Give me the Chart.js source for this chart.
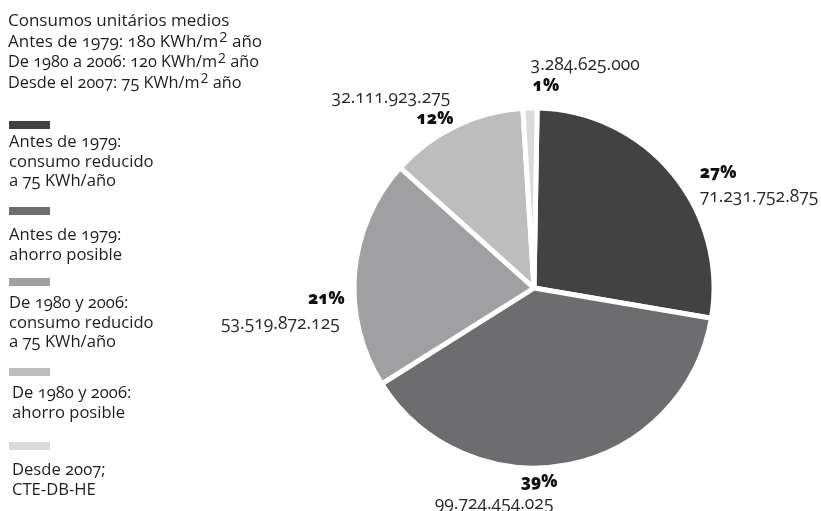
<!DOCTYPE html>
<html>
<head>
<meta charset="utf-8">
<script src="https://cdn.jsdelivr.net/npm/chart.js@4"></script>
<style>
  body { margin: 0; background: #fff; }
  #wrap { position: relative; width: 821px; height: 511px; font-family: "Open Sans", sans-serif; color: #1e1e1e; font-variant-numeric: oldstyle-nums; }
  #chartBox { position: absolute; left: 0; top: 0; width: 821px; height: 511px; }
  #head { position: absolute; left: 8px; top: 10px; font-size: 17px; line-height: 20.5px; white-space: nowrap; }
  #head .small { font-size: 16.3px; }
  #head sup { font-size: 0.85em; vertical-align: 0.3em; line-height: 0; font-variant-numeric: lining-nums; margin-left: 1px; }
  .sw { position: absolute; left: 9px; width: 41px; height: 8px; }
  .lab { position: absolute; font-size: 16.6px; line-height: 19.5px; white-space: pre-line; }
</style>
</head>
<body>
<div id="wrap">
  <div id="chartBox"><canvas id="chartCanvas"></canvas></div>
  <div id="head">
    Consumos unitários medios<br>
    Antes de 1979: 180 KWh/m<sup>2</sup> año<br>
    <span class="small">De 1980 a 2006: 120 KWh/m<sup>2</sup> año</span><br>
    <span class="small">Desde el 2007: 75 KWh/m<sup>2</sup> año</span>
  </div>
  <div id="legend"></div>
</div>
<script>
const categories = [
  "Antes de 1979:\nconsumo reducido\na 75 KWh/año",
  "Antes de 1979:\nahorro posible",
  "De 1980 y 2006:\nconsumo reducido\na 75 KWh/año",
  "De 1980 y 2006:\nahorro posible",
  "Desde 2007;\nCTE-DB-HE"
];
const values = [71231752875, 99724454025, 53519872125, 32111923275, 3284625000];
const percentLabels = ["27%", "39%", "21%", "12%", "1%"];
const colors = ["#424242", "#6d6d6f", "#a0a0a2", "#bdbdbe", "#dadadb"];

// legend layout (hand placed, like the original)
const swatchTop = [121, 207, 278, 368, 442];
const textTop = [131, 224, 292, 382, 459];
const textLeft = [9, 9, 9, 12, 12];

// where the slice labels sit relative to the slice's outer mid point
const labelPlace = [
  { align: "left",  dx: 14, dy: 11, vx: 0,  vy: 24 },
  { align: "right", dx: -15, dy: 1, vx: -4, vy: 22 },
  { align: "right", dx: 7,  dy: 28, vx: -5, vy: 25 },
  { align: "right", dx: 5,  dy: 9,  vx: -3, vy: -22 },
  { align: "left",  dx: 3,  dy: -5, vx: -2, vy: -21 }
];

function fmt(v) {
  return String(v).replace(/\B(?=(\d{3})+(?!\d))/g, ".");
}

// build the legend on the left
const legend = document.getElementById("legend");
categories.forEach((c, i) => {
  const sw = document.createElement("div");
  sw.className = "sw";
  sw.style.top = swatchTop[i] + "px";
  sw.style.background = colors[i];
  legend.appendChild(sw);
  const t = document.createElement("div");
  t.className = "lab";
  t.style.top = textTop[i] + "px";
  t.style.left = textLeft[i] + "px";
  t.textContent = c;
  legend.appendChild(t);
});

// percent + value text next to each slice
const sliceLabels = {
  id: "sliceLabels",
  afterDatasetsDraw(chart) {
    const ctx = chart.ctx;
    const arcs = chart.getDatasetMeta(0).data;
    arcs.forEach((arc, i) => {
      const p = arc.getProps(["x", "y", "startAngle", "endAngle", "outerRadius"]);
      const mid = (p.startAngle + p.endAngle) / 2;
      const r = p.outerRadius + 17;
      const place = labelPlace[i];
      const x = p.x + Math.cos(mid) * r + place.dx;
      const y = p.y + Math.sin(mid) * r + place.dy;
      ctx.save();
      ctx.textAlign = place.align;
      ctx.textBaseline = "middle";
      ctx.fillStyle = "#111";
      ctx.font = "800 17px 'Open Sans'";
      ctx.fillText(percentLabels[i], x, y);
      ctx.fillStyle = "#2a2a2a";
      ctx.font = "17.5px 'Open Sans'";
      ctx.fillText(fmt(values[i]), x + place.vx, y + place.vy);
      ctx.restore();
    });
  }
};

const ctx = document.getElementById("chartCanvas").getContext("2d");
new Chart(ctx, {
  type: "pie",
  data: {
    labels: categories,
    datasets: [{
      data: values,
      backgroundColor: colors,
      borderColor: "#ffffff",
      borderWidth: 5
    }]
  },
  options: {
    responsive: true,
    maintainAspectRatio: false,
    animation: false,
    events: [],
    rotation: 1,
    radius: 180,
    layout: { padding: { left: 354, right: 107, top: 108, bottom: 43 } },
    plugins: {
      legend: { display: false },
      tooltip: { enabled: false }
    }
  },
  plugins: [sliceLabels]
});
</script>
</body>
</html>
